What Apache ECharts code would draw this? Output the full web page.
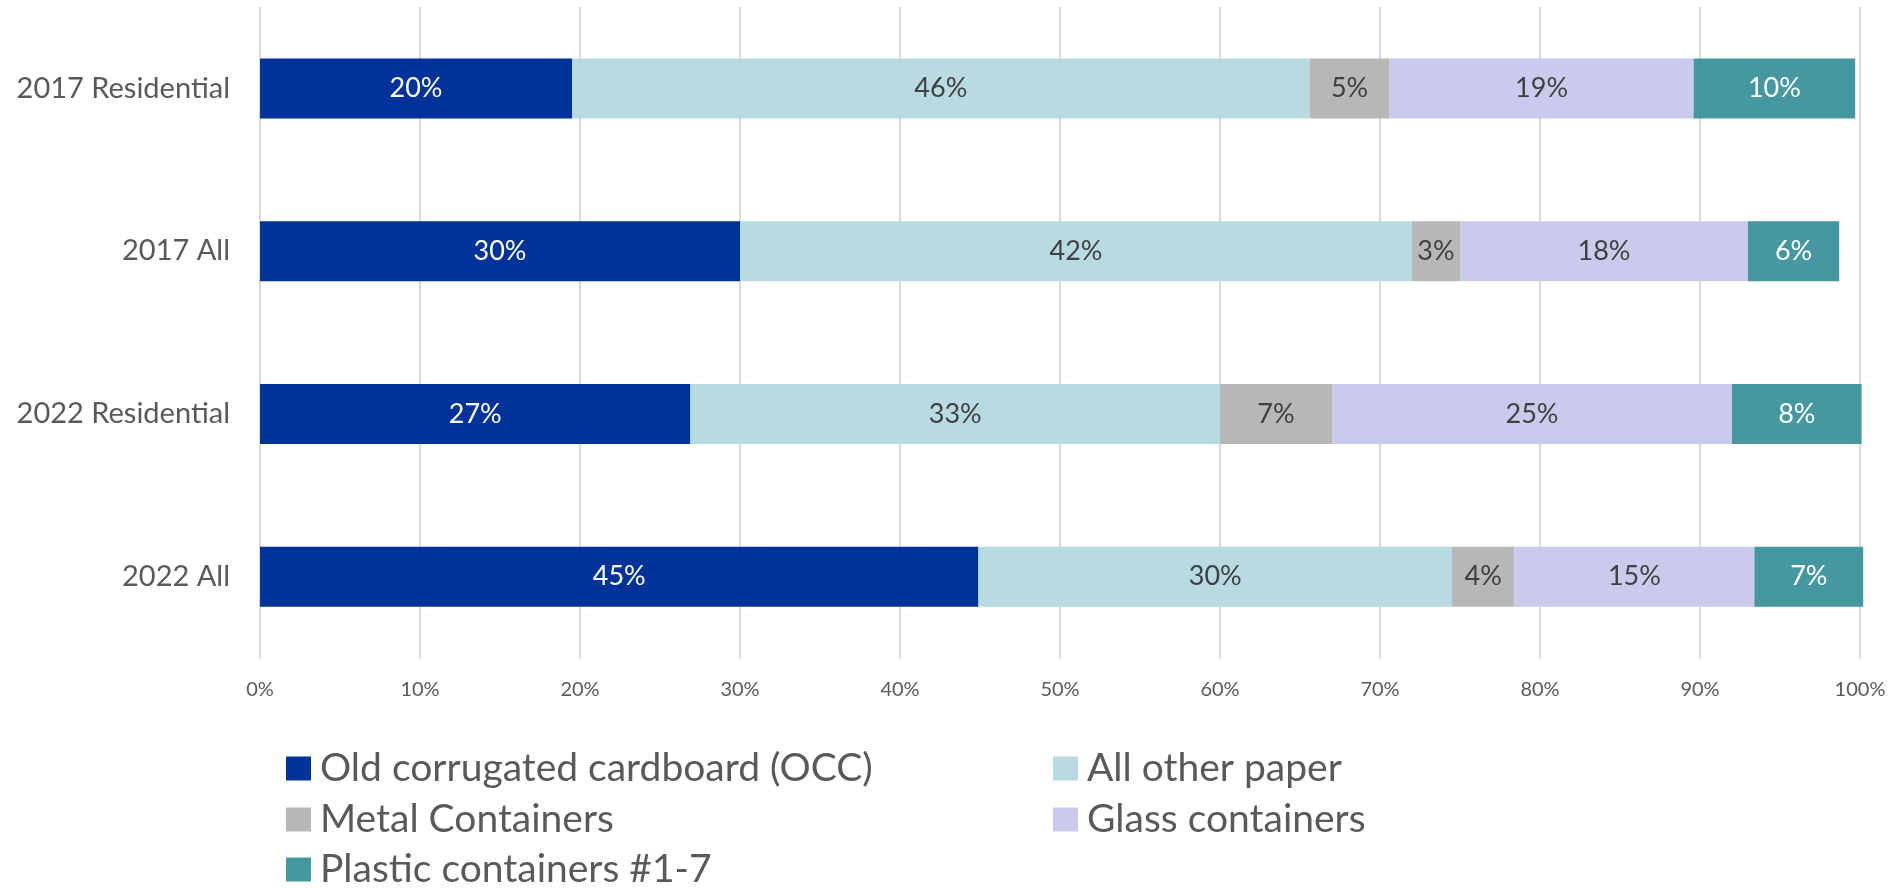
<!DOCTYPE html>
<html>
<head>
<meta charset="utf-8">
<script src="https://cdn.jsdelivr.net/npm/echarts@6/dist/echarts.min.js"></script>
<style>
  html, body { margin: 0; padding: 0; background: #fff; }
  #chart { width: 1903px; height: 888px; }
</style>
</head>
<body>
<div id="chart"></div>
<script>
// categories, top to bottom
const categories = ["2017 Residential", "2017 All", "2022 Residential", "2022 All"];
// shares in percent
const occ = [19.5, 30.0, 26.9, 44.9];
const otherPaper = [46.1, 42.0, 33.1, 29.6];
const metal = [5.0, 3.0, 7.0, 3.9];
const glass = [19.0, 18.0, 25.0, 15.0];
const plastic = [10.1, 5.7, 8.1, 6.8];

const font = "Lato";

const chart = echarts.init(document.getElementById("chart"));

const mkSeries = (name, data, color, labelColor) => ({
  name: name,
  type: "bar",
  stack: "total",
  data: data,
  barWidth: 60,
  clip: false,
  itemStyle: { color: color },
  label: {
    show: true,
    position: "inside",
    color: labelColor,
    fontFamily: font,
    fontSize: 27,
    formatter: (p) => Math.round(p.value) + "%"
  },
  emphasis: { disabled: true }
});

// one legend per entry so the two-column grid lines up like the original
const mkLegend = (name, left, top) => ({
  data: [name],
  left: left,
  top: top,
  padding: 0,
  itemWidth: 25,
  itemHeight: 24,
  icon: "rect",
  selectedMode: false,
  textStyle: {
    color: "#595959",
    fontFamily: font,
    fontSize: 39,
    padding: [0, 0, 0, 4]
  }
});

chart.setOption({
  animation: false,
  grid: { left: 260, right: 43, top: 7, bottom: 230 },
  xAxis: {
    type: "value",
    min: 0,
    max: 100,
    interval: 10,
    axisLine: { show: false },
    axisTick: { show: false },
    splitLine: { lineStyle: { color: "#D9D9D9", width: 2 } },
    axisLabel: {
      formatter: "{value}%",
      color: "#595959",
      fontFamily: font,
      fontSize: 20,
      margin: 22
    }
  },
  yAxis: {
    type: "category",
    inverse: true,
    data: categories,
    axisLine: { show: false },
    axisTick: { show: false },
    axisLabel: {
      color: "#595959",
      fontFamily: font,
      fontSize: 29,
      margin: 30
    }
  },
  legend: [
    mkLegend("Old corrugated cardboard (OCC)", 286, 749),
    mkLegend("All other paper", 1053, 749),
    mkLegend("Metal Containers", 286, 800),
    mkLegend("Glass containers", 1053, 800),
    mkLegend("Plastic containers #1-7", 286, 850)
  ],
  series: [
    mkSeries("Old corrugated cardboard (OCC)", occ, "#003399", "#FFFFFF"),
    mkSeries("All other paper", otherPaper, "#B7DBE0", "#404040"),
    mkSeries("Metal Containers", metal, "#B7B7B7", "#404040"),
    mkSeries("Glass containers", glass, "#CACAEC", "#404040"),
    mkSeries("Plastic containers #1-7", plastic, "#4597A0", "#FFFFFF")
  ]
});
</script>
</body>
</html>
